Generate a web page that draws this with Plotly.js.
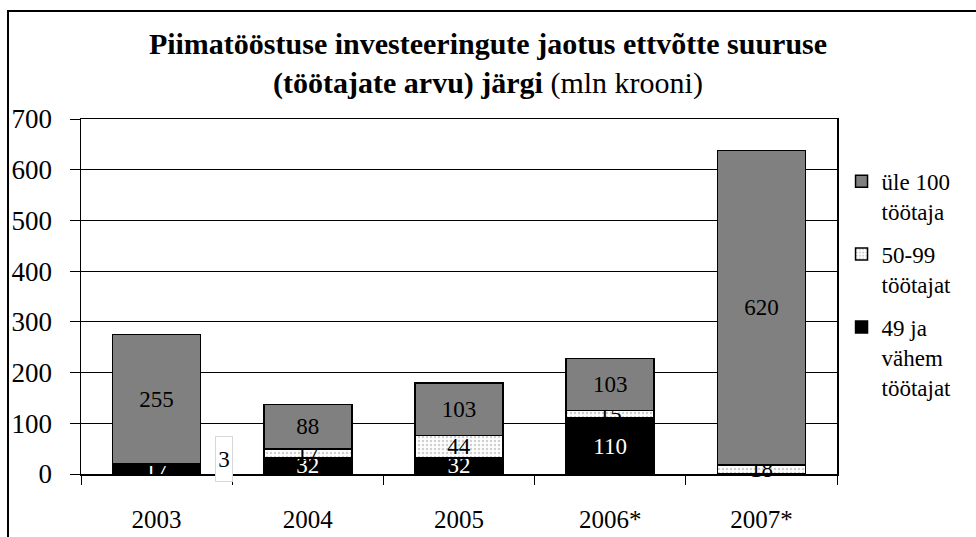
<!DOCTYPE html>
<html>
<head>
<meta charset="utf-8">
<script src="https://cdn.plot.ly/plotly-3.0.1.min.js"></script>
<style>
  body { margin: 0; background: #fff; }
  #plot { width: 976px; height: 537px; }
  #frame { position: absolute; left: 7px; top: 10px; width: 980px; height: 540px;
           border-left: 2px solid #000; border-top: 2px solid #000; pointer-events: none; }
</style>
</head>
<body>
<div id="plot"></div>
<div id="frame"></div>
<script>
const years = ['2003', '2004', '2005', '2006*', '2007*'];
const small = [17, 32, 32, 110, null];     // 49 ja vähem töötajat
const medium = [3, 17, 44, 15, 18];        // 50-99 töötajat
const large = [255, 88, 103, 103, 620];    // üle 100 töötaja
const yTicks = [0, 100, 200, 300, 400, 500, 600, 700];

const serif = 'Liberation Serif';
const outline = { color: '#000', width: 1.5 };

// the 3 for 2003 is drawn beside the bar, as in the original
const mediumText = medium.map((v, i) => (i === 0 ? '' : String(v)));

const traces = [
  {
    type: 'bar', name: '49 ja<br>vähem<br>töötajat', x: years, y: small,
    text: small.map(v => (v == null ? '' : String(v))),
    marker: { color: '#000', line: outline },
    textfont: { color: '#fff', size: 23, family: serif },
    legendgroup: 'a', legendrank: 3
  },
  {
    type: 'bar', name: '50-99<br>töötajat', x: years, y: medium,
    text: mediumText, cliponaxis: false,
    marker: { color: '#fff', line: outline,
              pattern: { shape: '.', fgcolor: '#d0d0d0', bgcolor: '#fff', size: 4, solidity: 0.3 } },
    textfont: { color: '#000', size: 23, family: serif },
    legendgroup: 'b', legendrank: 2
  },
  {
    type: 'bar', name: 'üle 100<br>töötaja', x: years, y: large,
    text: large.map(String),
    marker: { color: '#808080', line: outline },
    textfont: { color: '#000', size: 23, family: serif },
    legendgroup: 'c', legendrank: 1
  }
];
traces.forEach(t => {
  t.textposition = 'inside';
  t.insidetextanchor = 'middle';
  t.textangle = 0;
  t.constraintext = 'none';
  t.hoverinfo = 'skip';
});

const layout = {
  width: 976, height: 537,
  margin: { l: 81, r: 139, t: 119, b: 63 },
  paper_bgcolor: '#fff', plot_bgcolor: '#fff',
  barmode: 'stack', bargap: 0.418,
  font: { family: serif, color: '#000' },
  title: {
    text: '<b>Piimatööstuse investeeringute jaotus ettvõtte suuruse</b><br><b>(töötajate arvu) järgi</b> (mln krooni)',
    font: { size: 30, family: serif },
    x: 0.5, xanchor: 'center', y: 0.899, yanchor: 'top'
  },
  xaxis: {
    type: 'category', range: [-0.5, years.length - 0.5],
    tickson: 'boundaries', ticks: 'outside', ticklen: 9,
    tickcolor: '#000', showline: true, linecolor: '#000', linewidth: 1.5, mirror: true,
    showgrid: false, tickfont: { size: 25, family: serif }, ticklabelstandoff: 22
  },
  yaxis: {
    range: [0, 700], tickvals: yTicks, ticktext: yTicks.map(String),
    ticks: 'outside', ticklen: 10, tickcolor: '#000',
    showline: true, linecolor: '#000', linewidth: 1.5, mirror: true,
    showgrid: true, gridcolor: '#000', gridwidth: 1, zeroline: false,
    tickfont: { size: 27, family: serif }, ticklabelstandoff: 12
  },
  legend: {
    x: 1.006, xanchor: 'left', y: 0.885, yanchor: 'top', valign: 'top',
    traceorder: 'grouped', tracegroupgap: 10,
    font: { size: 23, family: serif }, bgcolor: 'rgba(0,0,0,0)'
  },
  annotations: [{
    x: 0, y: 0, xref: 'x', yref: 'y', xshift: 67, yshift: 15,
    yanchor: 'middle', text: String(medium[0]), showarrow: false,
    width: 12, height: 40, borderpad: 2,
    font: { size: 23, family: serif, color: '#000' },
    bgcolor: '#fff', bordercolor: '#d8d8d8', borderwidth: 1
  }]
};

Plotly.newPlot('plot', traces, layout, { displayModeBar: false, staticPlot: true });
</script>
</body>
</html>
